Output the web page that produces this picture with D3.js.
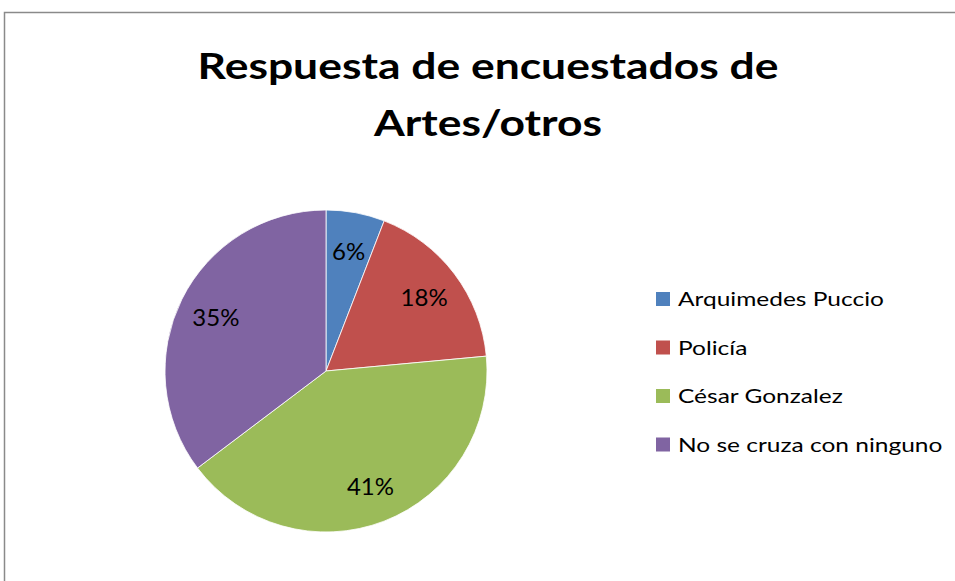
<!DOCTYPE html>
<html>
<head>
<meta charset="utf-8">
<script src="https://cdn.jsdelivr.net/npm/d3@7"></script>
<style>
  html, body { margin: 0; padding: 0; background: #fff; overflow: hidden; }
  svg { display: block; }
  text { font-family: Lato, "Open Sans", sans-serif; }
</style>
</head>
<body>
<svg id="chart" width="955" height="581"></svg>
<script>
const titleLines = ["Respuesta de encuestados de", "Artes/otros"];
const categories = ["Arquimedes Puccio", "Policía", "César Gonzalez", "No se cruza con ninguno"];
const values = [1, 3, 7, 6];
const colors = ["#4F81BD", "#C0504D", "#9BBB59", "#8064A2"];

const svg = d3.select("#chart");
const W = 955, H = 581;

svg.append("rect").attr("x", 0).attr("y", 0).attr("width", W).attr("height", H).attr("fill", "#fff");
// chart frame (only top and left edges visible in the crop)
svg.append("rect")
  .attr("x", 4.5).attr("y", 12.5)
  .attr("width", W + 20).attr("height", H + 20)
  .attr("fill", "none").attr("stroke", "#8a8a8a").attr("stroke-width", 1.5);

// horizontally stretched text helper (keeps real text)
function stretchText(g, x, y, str, size, targetW, anchor, weight) {
  const t = g.append("text")
    .attr("font-size", size)
    .attr("font-weight", weight || "normal")
    .attr("fill", "#000")
    .attr("text-anchor", anchor)
    .text(str);
  const w = t.node().getComputedTextLength();
  const sx = targetW ? targetW / w : 1;
  t.attr("transform", `translate(${x},${y}) scale(${sx},1)`);
  return sx;
}

// title
const titleG = svg.append("g");
const titleBaselines = [78.5, 136];
{
  const sx = stretchText(titleG, 488, titleBaselines[0], titleLines[0], 36.5, 581, "middle", "bold");
  const t = titleG.append("text")
    .attr("font-size", 36.5).attr("font-weight", "bold").attr("fill", "#000")
    .attr("text-anchor", "middle").text(titleLines[1])
    .attr("transform", `translate(488,${titleBaselines[1]}) scale(${sx},1)`);
}

// pie
const cx = 326, cy = 371, R = 161;
const total = d3.sum(values);
const pie = d3.pie().sort(null).value(d => d)(values);
const arc = d3.arc().innerRadius(0).outerRadius(R);
const labelArc = d3.arc().innerRadius(123).outerRadius(123);
const color = d3.scaleOrdinal().domain(categories).range(colors);

const pieG = svg.append("g").attr("transform", `translate(${cx},${cy})`);
pieG.selectAll("path").data(pie).join("path")
  .attr("d", arc)
  .attr("fill", (d, i) => color(categories[i]))
  .attr("stroke", "#fff").attr("stroke-width", 0.8);

const fmt = d3.format(".0%");
pieG.selectAll("text.lbl").data(pie).join("text")
  .attr("class", "lbl")
  .attr("x", d => labelArc.centroid(d)[0])
  .attr("y", d => labelArc.centroid(d)[1])
  .attr("text-anchor", "middle")
  .attr("dominant-baseline", "central")
  .attr("font-size", 24)
  .attr("fill", "#000")
  .text(d => fmt(d.value / total));

// legend
const legG = svg.append("g");
const legY = d3.scalePoint().domain(categories).range([306, 451.5]);
let legSx = null;
categories.forEach((c, i) => {
  const y = legY(c);
  legG.append("rect")
    .attr("x", 656).attr("y", y - 14)
    .attr("width", 14).attr("height", 14)
    .attr("fill", color(c));
  if (legSx === null) {
    legSx = stretchText(legG, 678, y, c, 19.5, 206, "start");
  } else {
    legG.append("text")
      .attr("font-size", 19.5).attr("fill", "#000").attr("text-anchor", "start")
      .text(c)
      .attr("transform", `translate(678,${y}) scale(${legSx},1)`);
  }
});
</script>
</body>
</html>
